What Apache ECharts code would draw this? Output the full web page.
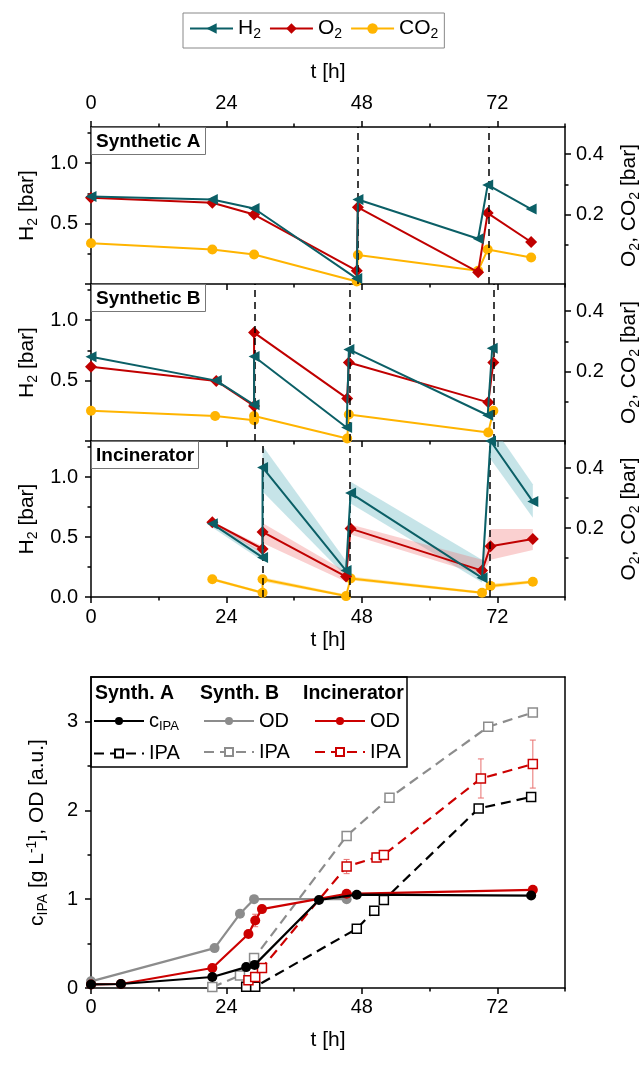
<!DOCTYPE html>
<html><head><meta charset="utf-8">
<script src="https://cdn.jsdelivr.net/npm/echarts@6/dist/echarts.min.js"></script>
<style>html,body{margin:0;padding:0;background:#fff}#c{width:644px;height:1065px}</style>
</head><body><div id="c"></div>
<script>
// ---------------- DATA ----------------
const tLabels = [0, 24, 48, 72];
const tMinor = [12, 36, 60, 84];
const h2Ticks = [0, 0.5, 1.0];
const h2Minor = [0.25, 0.75, 1.25];
const gasTicks = [0.2, 0.4];
const gasMinor = [0.1, 0.3];
const cTicks = [0, 1, 2, 3];
const cMinor = [0.5, 1.5, 2.5];
const panelLabels = ['Synthetic A', 'Synthetic B', 'Incinerator'];

// Synthetic A  [t (h), value]
const h2A  = [[0,0.725],[21.5,0.70],[28.9,0.625],[47.1,0.045],[47.3,0.70],[68.6,0.375],[70.3,0.82],[78,0.62]];
const o2A  = [[0,0.256],[21.5,0.239],[28.9,0.200],[47.1,0.014],[47.3,0.224],[68.6,0.009],[70.3,0.205],[78,0.109]];
const co2A = [[0,0.105],[21.5,0.084],[28.9,0.068],[47.1,-0.022],[47.3,0.066],[68.6,0.014],[70.3,0.084],[78,0.058]];
const refillA = [47.3, 70.5];
// Synthetic B
const h2B  = [[0,0.697],[22.2,0.50],[28.9,0.30],[28.9,0.70],[45.3,0.112],[45.7,0.758],[70.3,0.213],[71.1,0.767]];
const o2B  = [[0,0.216],[22.2,0.169],[28.9,0.086],[28.9,0.329],[45.4,0.111],[45.7,0.230],[70.4,0.098],[71.3,0.230]];
const co2B = [[0,0.070],[22.0,0.053],[28.9,0.039],[28.9,0.053],[45.4,-0.022],[45.7,0.058],[70.4,-0.002],[71.3,0.070]];
const refillB = [29.0, 45.8, 71.3];
// Incinerator
const h2C  = [[21.5,0.61],[30.4,0.33],[30.4,1.08],[45.2,0.22],[46.0,0.866],[69.3,0.16],[70.8,1.30],[78.3,0.795]];
const o2C  = [[21.5,0.219],[30.4,0.130],[30.4,0.187],[45.2,0.038],[46.0,0.198],[69.3,0.058],[70.8,0.139],[78.3,0.163]];
const co2C = [[21.5,0.029],[30.4,-0.016],[30.4,0.029],[45.2,-0.027],[46.0,0.032],[69.3,-0.016],[70.8,0.007],[78.3,0.021]];
const refillC = [30.5, 45.8, 70.6];
// Incinerator spread bands: [t0, lo0, hi0, t1, lo1, hi1]
const h2BandC = [[21.5,0.58,0.63,30.4,0.30,0.37],[30.4,0.88,1.26,45.2,0.17,0.30],[46.0,0.78,0.96,69.3,0.12,0.31],[69.3,0.12,0.31,70.8,1.15,1.45],[70.8,1.15,1.45,78.3,0.66,0.94]];
const o2BandC = [[21.5,0.211,0.222,30.4,0.116,0.139],[30.4,0.150,0.217,45.2,0.021,0.054],[46.0,0.178,0.212,69.3,0.043,0.094],[69.3,0.043,0.094,70.8,0.094,0.197],[70.8,0.094,0.197,78.3,0.127,0.197]];
const co2BandC = [[21.5,0.024,0.034,30.4,-0.020,-0.012],[30.4,0.022,0.036,45.2,-0.030,-0.022],[46.0,0.026,0.038,69.3,-0.020,-0.012],[70.8,0.000,0.014,78.3,0.016,0.026]];

// Bottom chart
const aC    = [[0,0.04],[5.3,0.045],[21.5,0.124],[27.5,0.235],[29.0,0.26],[40.4,0.99],[47.1,1.05],[78,1.04]];
const aIPA  = [[27.5,0.015],[29.1,0.015],[47.1,0.667],[50.2,0.87],[51.9,0.99],[68.7,2.02],[78,2.15]];
const bOD   = [[0,0.075],[21.9,0.449],[26.4,0.835],[28.9,1.0],[45.3,1.0]];
const bIPA  = [[21.5,0.01],[26.4,0.14],[28.9,0.337],[45.3,1.71],[52.9,2.14],[70.4,2.94],[78.3,3.1]];
const iOD   = [[0,0.04],[5.3,0.045],[21.5,0.225],[27.9,0.607],[29.1,0.76],[30.3,0.888],[45.3,1.06],[78.3,1.105]];
const iIPA  = [[27.9,0.086],[29.1,0.124],[30.3,0.225],[45.3,1.367],[50.6,1.47],[51.9,1.498],[69.1,2.358],[78.3,2.52]];
// error bars [t, mean, err]
const iIPAErr = [[29.1,0.124,0.03],[45.3,1.367,0.08],[50.6,1.47,0.05],[51.9,1.498,0.04],[69.1,2.358,0.22],[78.3,2.52,0.27]];
const iODErr  = [[29.1,0.76,0.07]];

// ---------------- STYLE ----------------
const FF = "'Liberation Sans', Arial, Helvetica, sans-serif";
const FS = 20;
const C_H2 = '#0B5F66', C_O2 = '#C00000', C_CO2 = '#FFB400';
const C_BLK = '#000000', C_GRY = '#8C8C8C', C_RED = '#CC0000', C_ERR = '#E8706F';
function rich(fs) {
  const ss = Math.round(fs * 0.65), pd = Math.round(fs * 0.5);
  return {
    n: {fontFamily: FF, fontSize: fs, color: '#000', verticalAlign: 'middle'},
    s: {fontFamily: FF, fontSize: ss, color: '#000', verticalAlign: 'middle', padding: [pd, 0, 0, 0]},
    p: {fontFamily: FF, fontSize: ss, color: '#000', verticalAlign: 'middle', padding: [0, 0, pd, 0]}
  };
}
const RICH20 = rich(20), RICH21 = rich(21);

const grids = [], xAxes = [], yAxes = [], series = [], titles = [], legends = [];

function axis(kind, o) {
  const a = {
    type: 'value', gridIndex: o.grid, position: o.pos, min: o.min, max: o.max,
    splitLine: {show: false}, splitArea: {show: false}, silent: true,
    axisLine: {show: o.line !== false, onZero: false, lineStyle: {color: '#000', width: 1.5}},
    axisTick: {show: !!o.ticks, length: o.tickLen || 6, inside: false, lineStyle: {color: '#000', width: 1.5}},
    minorTick: {show: false},
    axisLabel: {show: !!o.labels, margin: o.margin || 12, fontFamily: FF, fontSize: FS, color: '#000'},
    name: o.name || '', nameLocation: 'middle', nameGap: o.nameGap || 30, nameMoveOverlap: false,
    nameTextStyle: {rich: RICH21, fontFamily: FF, fontSize: 21, color: '#000'}
  };
  if (o.ticks) a.axisTick.customValues = o.ticks;
  if (o.labels) a.axisLabel.customValues = o.labels;
  if (o.fmt) a.axisLabel.formatter = o.fmt;
  if (o.nameRotate !== undefined) a.nameRotate = o.nameRotate;
  const arr = kind === 'x' ? xAxes : yAxes;
  arr.push(a);
  return arr.length - 1;
}

function band(name, xi, yi, data, color) {
  series.push({
    name: name, type: 'custom', coordinateSystem: 'cartesian2d', xAxisIndex: xi, yAxisIndex: yi,
    data: data, encode: {x: [0, 3], y: [1, 2, 4, 5]}, z: 1, silent: true,
    renderItem: function (params, api) {
      const p = [api.coord([api.value(0), api.value(1)]), api.coord([api.value(3), api.value(4)]),
                 api.coord([api.value(3), api.value(5)]), api.coord([api.value(0), api.value(2)])];
      const cs = params.coordSys;
      return {type: 'polygon', shape: {points: p}, style: {fill: color},
              clipPath: {type: 'rect', shape: {x: cs.x, y: cs.y, width: cs.width, height: cs.height}}};
    }
  });
}

// ---------------- TOP PANELS ----------------
const PT = [127, 284, 441], PH = [157, 157, 156];
const gasSets = [[h2A, o2A, co2A, refillA], [h2B, o2B, co2B, refillB], [h2C, o2C, co2C, refillC]];
const f1 = v => v.toFixed(1);

for (let i = 0; i < 3; i++) {
  grids.push({left: 91, right: 79, top: PT[i], height: PH[i], containLabel: false, outerBoundsMode: 'none'});
  const xi = axis('x', {grid: i, pos: 'bottom', min: 0, max: 84, ticks: tLabels, tickLen: 6,
    labels: i === 2 ? tLabels : null, margin: 10, name: i === 2 ? 't [h]' : '', nameGap: 33});
  axis('x', {grid: i, pos: 'bottom', min: 0, max: 84, ticks: tMinor, tickLen: 3.5, line: false});
  if (i === 0) {
    axis('x', {grid: i, pos: 'top', min: 0, max: 84, ticks: tLabels, tickLen: 6, labels: tLabels, margin: 14,
      name: 't [h]', nameGap: 44});
    axis('x', {grid: i, pos: 'top', min: 0, max: 84, ticks: tMinor, tickLen: 3.5, line: false});
  }
  const yl = axis('y', {grid: i, pos: 'left', min: 0, max: 1.3, ticks: h2Ticks, tickLen: 6,
    labels: i === 2 ? h2Ticks : [0.5, 1.0], fmt: f1, margin: 13,
    name: '{n|H}{s|2}{n| [bar]}', nameGap: 51, nameRotate: 90});
  axis('y', {grid: i, pos: 'left', min: 0, max: 1.3, ticks: h2Minor, tickLen: 3.5, line: false});
  const yr = axis('y', {grid: i, pos: 'right', min: -0.03, max: 0.49, ticks: gasTicks, tickLen: 6,
    labels: gasTicks, fmt: f1, margin: 11,
    name: '{n|O}{s|2}{n|, CO}{s|2}{n| [bar]}', nameGap: 52, nameRotate: 90});
  axis('y', {grid: i, pos: 'right', min: -0.03, max: 0.49, ticks: gasMinor, tickLen: 3.5, line: false});

  const [h2, o2, co2, refill] = gasSets[i];
  if (i === 2) {
    band('h2band', xi, yl, h2BandC, 'rgba(120,190,200,0.42)');
    band('o2band', xi, yr, o2BandC, 'rgba(240,110,110,0.32)');
    band('co2band', xi, yr, co2BandC, 'rgba(255,200,60,0.45)');
  }
  series.push({name: 'CO2', type: 'line', xAxisIndex: xi, yAxisIndex: yr, data: co2, z: 3,
    symbol: 'circle', symbolSize: 10, itemStyle: {color: C_CO2}, lineStyle: {color: C_CO2, width: 2},
    markLine: {silent: true, symbol: ['none', 'none'], label: {show: false}, animation: false,
      lineStyle: {color: '#000', type: [7, 5], width: 1.5}, data: refill.map(t => ({xAxis: t}))}});
  series.push({name: 'O2', type: 'line', xAxisIndex: xi, yAxisIndex: yr, data: o2, z: 4,
    symbol: 'diamond', symbolSize: 12, itemStyle: {color: C_O2}, lineStyle: {color: C_O2, width: 2}});
  series.push({name: 'H2', type: 'line', xAxisIndex: xi, yAxisIndex: yl, data: h2, z: 5,
    symbol: 'triangle', symbolRotate: 90, symbolSize: 11, itemStyle: {color: C_H2}, lineStyle: {color: C_H2, width: 2}});

  titles.push({text: panelLabels[i], left: 91, top: PT[i], padding: [5, 5, 4, 5],
    borderColor: '#777', borderWidth: 1, backgroundColor: '#fff',
    textStyle: {fontFamily: FF, fontSize: 19, fontWeight: 'bold', color: '#000'}});
}

legends.push({data: ['H2', 'O2', 'CO2'], left: 183, top: 13, orient: 'horizontal',
  itemWidth: 43, itemHeight: 13, itemGap: 8, padding: [5, 6, 7, 6],
  borderColor: '#888', borderWidth: 1, selectedMode: false,
  textStyle: {fontFamily: FF, fontSize: 21, color: '#000', rich: RICH21},
  formatter: n => ({H2: '{n|H}{s|2}', O2: '{n|O}{s|2}', CO2: '{n|CO}{s|2}'})[n]});

// ---------------- BOTTOM CHART ----------------
const g = 3;
grids.push({left: 91, right: 79, top: 677, height: 311, containLabel: false, outerBoundsMode: 'none'});
const bx = axis('x', {grid: g, pos: 'bottom', min: 0, max: 84, ticks: tLabels, tickLen: 6, labels: tLabels,
  margin: 9, name: 't [h]', nameGap: 42});
axis('x', {grid: g, pos: 'bottom', min: 0, max: 84, ticks: tMinor, tickLen: 3.5, line: false});
axis('x', {grid: g, pos: 'top', min: 0, max: 84});
const by = axis('y', {grid: g, pos: 'left', min: 0, max: 3.5, ticks: cTicks, tickLen: 6, labels: cTicks,
  fmt: v => String(Math.round(v)), margin: 13,
  name: '{n|c}{s|IPA}{n| [g L}{p|-1}{n|], OD [a.u.]}', nameGap: 41, nameRotate: 90});
axis('y', {grid: g, pos: 'left', min: 0, max: 3.5, ticks: cMinor, tickLen: 3.5, line: false});
axis('y', {grid: g, pos: 'right', min: 0, max: 3.5});

function solid(name, data, col, z) {
  series.push({name: name, type: 'line', xAxisIndex: bx, yAxisIndex: by, data: data, z: z,
    symbol: 'circle', symbolSize: 10, itemStyle: {color: col}, lineStyle: {color: col, width: 2.2}});
}
function dashed(name, data, col, z) {
  series.push({name: name, type: 'line', xAxisIndex: bx, yAxisIndex: by, data: data, z: z,
    symbol: 'rect', symbolSize: 9, itemStyle: {color: '#fff', borderColor: col, borderWidth: 1.5},
    lineStyle: {color: col, width: 2.2, type: [10, 6]}});
}
function errbars(data, z) {
  series.push({name: 'err', type: 'custom', coordinateSystem: 'cartesian2d', xAxisIndex: bx, yAxisIndex: by,
    data: data.map(d => [d[0], d[1] - d[2], d[1] + d[2]]), encode: {x: 0, y: [1, 2]}, z: z, silent: true,
    renderItem: function (params, api) {
      const a = api.coord([api.value(0), api.value(1)]), b = api.coord([api.value(0), api.value(2)]);
      const w = 3, st = {stroke: C_ERR, lineWidth: 1};
      return {type: 'group', children: [
        {type: 'line', shape: {x1: a[0], y1: a[1], x2: b[0], y2: b[1]}, style: st},
        {type: 'line', shape: {x1: a[0] - w, y1: a[1], x2: a[0] + w, y2: a[1]}, style: st},
        {type: 'line', shape: {x1: b[0] - w, y1: b[1], x2: b[0] + w, y2: b[1]}, style: st}]};
    }});
}
errbars(iIPAErr, 2);
errbars(iODErr, 2);
dashed('A_IPA', aIPA, C_BLK, 3);
dashed('B_IPA', bIPA, C_GRY, 3);
dashed('I_IPA', iIPA, C_RED, 4);
solid('B_OD', bOD, C_GRY, 5);
solid('I_OD', iOD, C_RED, 6);
solid('A_c', aC, C_BLK, 7);

const legNames = {A_c: '{n|c}{s|IPA}', A_IPA: '{n|IPA}', B_OD: '{n|OD}', B_IPA: '{n|IPA}', I_OD: '{n|OD}', I_IPA: '{n|IPA}'};
[[['A_c', 'A_IPA'], 93], [['B_OD', 'B_IPA'], 203], [['I_OD', 'I_IPA'], 314]].forEach(([d, l]) => {
  legends.push({data: d, left: l, top: 711, orient: 'vertical', itemWidth: 50, itemHeight: 10, itemGap: 11,
    padding: 0, selectedMode: false, textStyle: {fontFamily: FF, fontSize: FS, color: '#000', rich: RICH20},
    formatter: n => legNames[n]});
});
[['Synth. A', 95], ['Synth. B', 200], ['Incinerator', 303]].forEach(([t, l]) => {
  titles.push({text: t, left: l, top: 684, padding: 0,
    textStyle: {fontFamily: FF, fontSize: 19.5, fontWeight: 'bold', color: '#000'}});
});

const chart = echarts.init(document.getElementById('c'), null, {renderer: 'canvas'});
chart.setOption({
  animation: false, backgroundColor: '#fff',
  title: titles, legend: legends, grid: grids, xAxis: xAxes, yAxis: yAxes, series: series,
  graphic: [{type: 'rect', shape: {x: 91, y: 677, width: 316, height: 90}, z: 50,
    style: {fill: 'none', stroke: '#000', lineWidth: 1.5}}]
});
</script></body></html>
